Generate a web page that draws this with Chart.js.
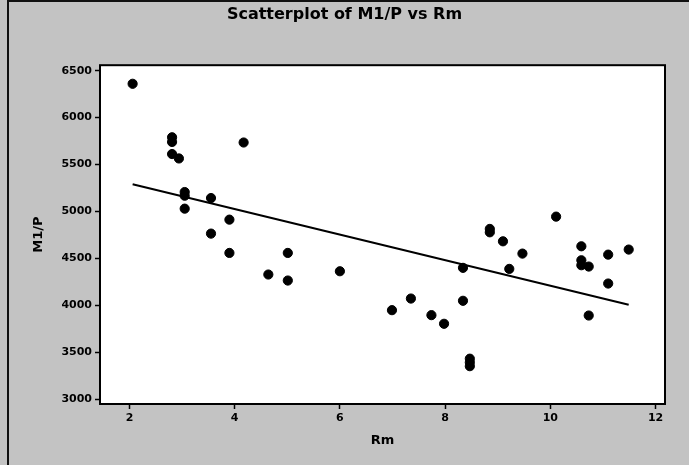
<!DOCTYPE html>
<html>
<head>
<meta charset="utf-8">
<script src="https://cdn.jsdelivr.net/npm/chart.js@4"></script>
<style>
  html, body { margin: 0; padding: 0; background: #c3c3c3; }
  #wrap { width: 689px; height: 465px; position: relative; }
</style>
</head>
<body>
<div id="wrap"><canvas id="myChart" width="689" height="465"></canvas></div>
<script>
// values
const rm = [2.06, 2.81, 2.81, 2.81, 2.94, 4.17, 3.05, 3.05, 3.55, 3.05,
  3.90, 3.55, 3.90, 5.01, 4.64, 5.01, 6.00, 6.99, 7.35, 7.74,
  7.98, 8.34, 8.34, 8.47, 8.47, 8.47, 8.85, 8.85, 9.10, 9.22,
  9.47, 10.11, 10.59, 10.59, 10.59, 10.73, 11.10, 11.49, 11.10, 10.73];
const m1p = [6360, 5790, 5740, 5611, 5564, 5734, 5206, 5167, 5142, 5029,
  4912, 4763, 4557, 4557, 4327, 4263, 4362, 3947, 4071, 3894,
  3802, 4398, 4047, 3430, 3390, 3350, 4813, 4777, 4681, 4387,
  4550, 4944, 4628, 4479, 4426, 4412, 4539, 4593, 4231, 3890];
// fitted line end points
const fitRm = [2.06, 11.49];
const fitM1p = [5290, 4005];
const xTicks = [2, 4, 6, 8, 10, 12];
const yTicks = [3000, 3500, 4000, 4500, 5000, 5500, 6000, 6500];

const tickFont = { family: "DejaVu Sans", size: 11, weight: "bold" };

const frame = {
  id: "frame",
  beforeDraw(chart) {
    const { ctx, chartArea: a } = chart;
    ctx.save();
    ctx.fillStyle = "#ffffff";
    ctx.fillRect(a.left, a.top, a.right - a.left, a.bottom - a.top);
    ctx.fillStyle = "#111";
    ctx.fillRect(7, 0, 2, 465);
    ctx.fillRect(7, 0, 682, 2);
    ctx.restore();
  },
  afterDraw(chart) {
    const { ctx, chartArea: a } = chart;
    ctx.save();
    ctx.strokeStyle = "#000";
    ctx.lineWidth = 2;
    ctx.strokeRect(a.left, a.top, a.right - a.left, a.bottom - a.top);
    ctx.restore();
  }
};

const ctx = document.getElementById("myChart");
const myChart = new Chart(ctx, {
  type: "scatter",
  data: {
    datasets: [
      {
        label: "M1/P",
        data: rm.map((x, i) => ({ x: x, y: m1p[i] })),
        backgroundColor: "#000",
        borderColor: "#000",
        pointRadius: 4.6,
        pointHoverRadius: 4.6,
      },
      {
        label: "fit",
        type: "line",
        data: fitRm.map((x, i) => ({ x: x, y: fitM1p[i] })),
        borderColor: "#000",
        borderWidth: 2,
        pointRadius: 0,
        fill: false,
      },
    ],
  },
  plugins: [frame],
  options: {
    responsive: false,
    animation: false,
    layout: { padding: 0 },
    plugins: {
      legend: { display: false },
      tooltip: { enabled: false },
      title: {
        display: true,
        text: "Scatterplot of M1/P vs Rm",
        color: "#000",
        font: { family: "DejaVu Sans", size: 16, weight: "bold" },
        padding: { top: 5, bottom: 41 },
      },
    },
    scales: {
      x: {
        type: "linear",
        min: 1.44,
        max: 12.18,
        afterBuildTicks: (s) => { s.ticks = xTicks.map((v) => ({ value: v })); },
        afterFit: (s) => { s.height = 61; },
        grid: { drawOnChartArea: false, drawTicks: true, tickLength: 5, tickColor: "#000", tickWidth: 1.5 },
        border: { display: false },
        ticks: { color: "#000", font: tickFont, padding: 3, maxRotation: 0 },
        title: {
          display: true,
          text: "Rm",
          color: "#000",
          font: { family: "DejaVu Sans", size: 13, weight: "bold" },
          padding: { top: 0, bottom: 17 },
        },
      },
      y: {
        type: "linear",
        min: 2947,
        max: 6558,
        afterBuildTicks: (s) => { s.ticks = yTicks.map((v) => ({ value: v })); },
        afterFit: (s) => { s.width = 100; },
        grid: { drawOnChartArea: false, drawTicks: true, tickLength: 5, tickColor: "#000", tickWidth: 1.5 },
        border: { display: false },
        ticks: { color: "#000", font: tickFont, padding: 3, callback: (v) => String(v) },
        title: {
          display: true,
          text: "M1/P",
          color: "#000",
          font: { family: "DejaVu Sans", size: 13, weight: "bold" },
          padding: { top: 31, bottom: 0 },
        },
      },
      // empty strip on the right so the plot ends where the reference does
      yRight: {
        type: "linear",
        position: "right",
        display: true,
        min: 2947,
        max: 6558,
        afterFit: (s) => { s.width = 24; },
        grid: { display: false },
        border: { display: false },
        ticks: { display: false },
      },
    },
  },
});
</script>
</body>
</html>
